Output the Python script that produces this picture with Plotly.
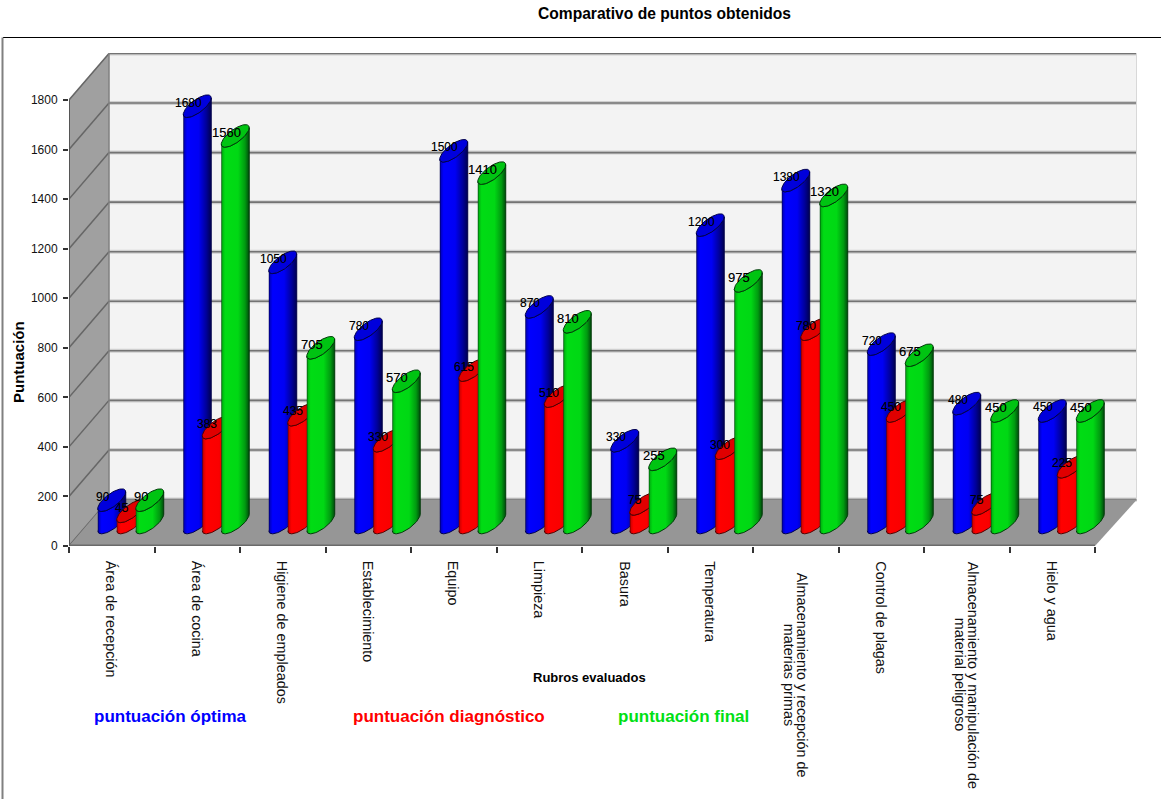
import numpy as np
import plotly.graph_objects as go

# Scores per inspection heading
rubros = [
    "Área de recepción", "Área de cocina", "Higiene de empleados", "Establecimiento",
    "Equipo", "Limpieza", "Basura", "Temperatura",
    "Almacenamiento y recepción de\nmaterias primas", "Control de plagas",
    "Almacenamiento y manipulación de\nmaterial peligroso", "Hielo y agua",
]
optima = [90, 1680, 1050, 780, 1500, 870, 330, 1200, 1380, 720, 480, 450]
diagnostico = [45, 383, 435, 330, 615, 510, 75, 300, 780, 450, 75, 225]
final = [90, 1560, 705, 570, 1410, 810, 255, 975, 1320, 675, 450, 450]
y_ticks = [0, 200, 400, 600, 800, 1000, 1200, 1400, 1600, 1800]

# Pixel scale of the plotting frame
W, H = 1161, 799
LEFT, RIGHT, TOP, BOTTOM = 69, 1137, 53, 546
PX_PER_CAT = 85.5
PX_PER_UNIT = 0.2478
x_max = (RIGHT - LEFT) / PX_PER_CAT
y_max = (BOTTOM - TOP) / PX_PER_UNIT

# Oblique depth of the box, and the cylinder proportions, in pixels
DEPTH_X, DEPTH_Y = 40.0, 46.5
STEP = 19.0
HALF_W, HALF_D, HALF_H = 9.5, 10.25, 11.3
FLOOR_Y = 23.5 / PX_PER_UNIT


def dx(px):
    return px / PX_PER_CAT


def dy(px):
    return px / PX_PER_UNIT


series = [
    dict(values=optima, body=[[0, "#000050"], [0.05, "#0000c8"], [0.14, "#0000ff"], [0.55, "#0000f4"],
                              [0.82, "#00009a"], [1, "#000050"]],
         cap="#0000dc", edge="#00004a", size=12),
    dict(values=diagnostico, body=[[0, "#600000"], [0.05, "#d80000"], [0.14, "#ff0000"], [0.6, "#fa0000"],
                                   [0.85, "#c00000"], [1, "#600000"]],
         cap="#e00000", edge="#500000", size=12),
    dict(values=final, body=[[0, "#004a0c"], [0.05, "#00b810"], [0.14, "#00dc14"], [0.6, "#00d814"],
                             [0.85, "#009a10"], [1, "#004a0c"]],
         cap="#00c412", edge="#003a08", size=13),
]

t_edge = np.arctan2(HALF_D, HALF_W)
theta_low = np.linspace(t_edge + np.pi, t_edge + 2 * np.pi, 40)
theta_all = np.linspace(0, 2 * np.pi, 80)


def ring(cx, cy, th):
    """Oblique circle at data position (cx, cy), sampled at angles th."""
    xs = cx + dx(HALF_W * np.cos(th) + HALF_D * np.sin(th))
    ys = cy + dy(HALF_H * np.sin(th))
    return xs, ys


fig = go.Figure()
annotations = []

# Bars are painted left to right, so each one overlaps its left neighbour
for i in range(len(rubros)):
    for j, s in enumerate(series):
        v = s["values"][i]
        cx = i + 0.5 + dx(DEPTH_X / 2 - 1 + (j - 1) * STEP)
        base_x, base_y = ring(cx, FLOOR_Y, theta_low)
        top_x, top_y = ring(cx, FLOOR_Y + v, theta_low[::-1])
        fig.add_trace(go.Scatter(
            x=np.r_[base_x, top_x], y=np.r_[base_y, top_y],
            mode="lines", fill="toself",
            fillgradient=dict(type="horizontal", colorscale=s["body"]),
            line=dict(color=s["edge"], width=1),
            hoverinfo="skip", showlegend=False,
        ))
        cap_x, cap_y = ring(cx, FLOOR_Y + v, theta_all)
        fig.add_trace(go.Scatter(
            x=cap_x, y=cap_y, mode="lines", fill="toself", fillcolor=s["cap"],
            line=dict(color=s["edge"], width=1),
            hoverinfo="skip", showlegend=False,
        ))
        # Value label sits over the top of its cylinder, slightly to the left
        annotations.append(dict(
            x=cx - dx(9), y=FLOOR_Y + v + dy(3.5), xref="x", yref="y", text=str(v),
            showarrow=False, xanchor="center", yanchor="middle",
            font=dict(family="Liberation Sans", size=s["size"], color="#000000",
                      shadow="0 0 0.5px rgba(0,0,0,0.45)"),
        ))

# Box walls, floor and gridlines
ox, oy = dx(DEPTH_X), dy(DEPTH_Y)
shapes = [
    dict(type="path", path=f"M {ox},{oy} L {x_max},{oy} L {x_max},{y_max} L {ox},{y_max} Z",
         fillcolor="#f3f3f3", line=dict(width=0), layer="below"),
    dict(type="path", path=f"M 0,0 L {ox},{oy} L {ox},{y_max} L 0,{y_max - oy} Z",
         fillcolor="#a0a0a0", line=dict(width=0), layer="below"),
]
for v in y_ticks:
    shapes.append(dict(type="line", x0=ox, x1=x_max, y0=v + oy, y1=v + oy,
                       line=dict(color="#cfcfcf", width=4), layer="below"))
    shapes.append(dict(type="line", x0=ox, x1=x_max, y0=v + oy, y1=v + oy,
                       line=dict(color="#737373", width=1.6), layer="below"))
    shapes.append(dict(type="line", x0=0, x1=ox, y0=v, y1=v + oy,
                       line=dict(color="#666666", width=1.5), layer="below"))
shapes += [
    dict(type="path", path=f"M 0,0 L {ox},{oy} L {x_max},{oy} L {12},0 Z",
         fillcolor="#969696", line=dict(width=0), layer="below"),
    dict(type="line", x0=ox, x1=ox, y0=oy, y1=y_max, line=dict(color="#808080", width=1.5), layer="below"),
    dict(type="line", x0=x_max, x1=x_max, y0=oy, y1=y_max, line=dict(color="#d8d8d8", width=2), layer="below"),
    dict(type="line", x0=0, x1=12, y0=0, y1=0, line=dict(color="#6a6a6a", width=3), layer="below"),
    dict(type="line", x0=0, x1=0, y0=0, y1=1800, line=dict(color="#555555", width=2), layer="below"),
    # Outer chart frame, running off the top right of the page
    dict(type="line", xref="paper", yref="paper",
         x0=(3 - LEFT) / (RIGHT - LEFT), x1=(W - LEFT) / (RIGHT - LEFT),
         y0=(BOTTOM - 37.5) / (BOTTOM - TOP), y1=(BOTTOM - 37.5) / (BOTTOM - TOP),
         line=dict(color="#000000", width=1.2)),
    dict(type="line", xref="paper", yref="paper",
         x0=(2.5 - LEFT) / (RIGHT - LEFT), x1=(2.5 - LEFT) / (RIGHT - LEFT),
         y0=(BOTTOM - 37.5) / (BOTTOM - TOP), y1=(BOTTOM - H) / (BOTTOM - TOP),
         line=dict(color="#808080", width=2)),
]


def px_paper(px, py):
    return (px - LEFT) / (RIGHT - LEFT), (BOTTOM - py) / (BOTTOM - TOP)


def note(text, px, py, size, color="#000000", bold=False, angle=0, xanchor="center", yanchor="middle"):
    xp, yp = px_paper(px, py)
    return dict(text=f"<b>{text}</b>" if bold else text, x=xp, y=yp, xref="paper", yref="paper",
                showarrow=False, textangle=angle, xanchor=xanchor, yanchor=yanchor,
                font=dict(family="Liberation Sans", size=size, color=color))


annotations += [
    note("Comparativo de puntos obtenidos", 664, 14, 15.6, bold=True),
    note("Rubros evaluados", 589, 677, 13, bold=True),
    note("Puntuación", 18, 362, 15, bold=True, angle=-90),
    note("puntuación óptima", 170, 716, 17, "#0000ff", bold=True),
    note("puntuación diagnóstico", 449, 716, 17, "#ff0000", bold=True),
    note("puntuación final", 683, 716, 17, "#00e014", bold=True),
]

# Category labels read downwards; wrapped ones stack right to left about a common centre
for i, name in enumerate(rubros):
    cx = LEFT + PX_PER_CAT * (i + 0.5)
    parts = name.split("\n")
    if len(parts) == 1:
        annotations.append(note(name, cx, 559, 14.4, "#111111", angle=90, yanchor="top"))
    else:
        annotations.append(note(parts[0], cx + 6.5, 675, 14.4, "#111111", angle=90))
        annotations.append(note(parts[1], cx - 6.5, 675, 14.4, "#111111", angle=90))

fig.update_layout(
    width=W, height=H, margin=dict(l=LEFT, r=W - RIGHT, t=TOP, b=H - BOTTOM),
    paper_bgcolor="white", plot_bgcolor="rgba(0,0,0,0)",
    shapes=shapes, annotations=annotations, showlegend=False,
    xaxis=dict(range=[0, x_max], showgrid=False, zeroline=False, showline=False,
               tickvals=list(range(13)), ticks="outside", ticklen=6, tickwidth=1.5,
               tickcolor="#333333", showticklabels=False),
    yaxis=dict(range=[0, y_max], showgrid=False, zeroline=False, showline=False,
               tickvals=y_ticks, ticks="outside", ticklen=5, tickwidth=1.5, tickcolor="#333333",
               ticklabelstandoff=3,
               tickfont=dict(family="Liberation Sans", size=12, color="#111111")),
)

fig.write_html("out.html", config=dict(displayModeBar=False))
